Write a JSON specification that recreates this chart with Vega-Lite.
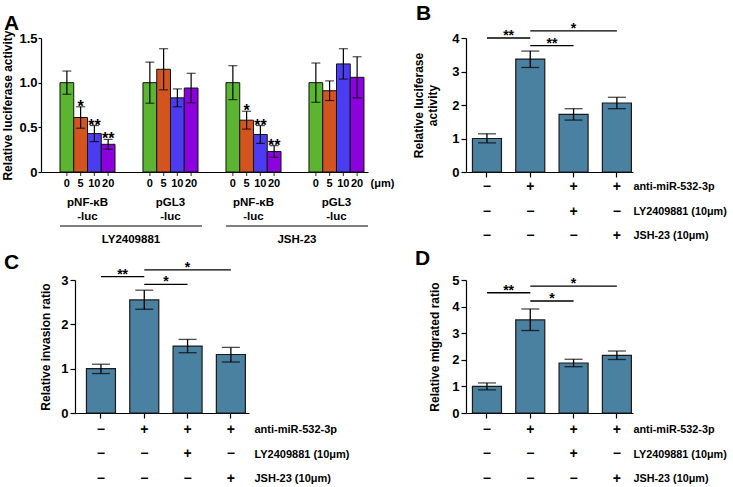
{
  "$schema": "https://vega.github.io/schema/vega-lite/v6.json",
  "background": "white",
  "padding": {"left": 1, "top": 2, "right": 0, "bottom": 0},
  "config": {
    "font": "Liberation Sans",
    "view": {"stroke": null},
    "axis": {"domainColor": "black", "tickColor": "black", "labelColor": "black", "titleColor": "black", "labelFontWeight": "bold", "titleFontWeight": "bold", "labelFontSize": 13, "titleFontSize": 12, "grid": false, "domainWidth": 1.2, "tickWidth": 1.2, "labelPadding": 2, "labelFont": "Liberation Sans", "titleFont": "Liberation Sans"},
    "text": {"fontWeight": "bold", "color": "black", "font": "Liberation Sans"},
    "title": {"fontSize": 21, "fontWeight": "bold", "anchor": "start", "frame": "group", "color": "black", "font": "Liberation Sans"},
    "tick": {"color": "black"},
    "rule": {"color": "black"}
  },
  "datasets": {
    "panelA": [
      {"treatment": "LY2409881", "group": "LY2409881 pNF-κB-luc", "dose": "0", "mean": 1.0, "lo": 0.87, "hi": 1.13, "sig": ""},
      {"treatment": "LY2409881", "group": "LY2409881 pNF-κB-luc", "dose": "5", "mean": 0.61, "lo": 0.49, "hi": 0.73, "sig": "*"},
      {"treatment": "LY2409881", "group": "LY2409881 pNF-κB-luc", "dose": "10", "mean": 0.43, "lo": 0.34, "hi": 0.52, "sig": "**"},
      {"treatment": "LY2409881", "group": "LY2409881 pNF-κB-luc", "dose": "20", "mean": 0.31, "lo": 0.255, "hi": 0.365, "sig": "**"},
      {"treatment": "LY2409881", "group": "LY2409881 pGL3-luc", "dose": "0", "mean": 1.0, "lo": 0.77, "hi": 1.23, "sig": ""},
      {"treatment": "LY2409881", "group": "LY2409881 pGL3-luc", "dose": "5", "mean": 1.15, "lo": 0.92, "hi": 1.38, "sig": ""},
      {"treatment": "LY2409881", "group": "LY2409881 pGL3-luc", "dose": "10", "mean": 0.83, "lo": 0.73, "hi": 0.93, "sig": ""},
      {"treatment": "LY2409881", "group": "LY2409881 pGL3-luc", "dose": "20", "mean": 0.94, "lo": 0.775, "hi": 1.105, "sig": ""},
      {"treatment": "JSH-23", "group": "JSH-23 pNF-κB-luc", "dose": "0", "mean": 1.0, "lo": 0.81, "hi": 1.19, "sig": ""},
      {"treatment": "JSH-23", "group": "JSH-23 pNF-κB-luc", "dose": "5", "mean": 0.58, "lo": 0.48, "hi": 0.68, "sig": "*"},
      {"treatment": "JSH-23", "group": "JSH-23 pNF-κB-luc", "dose": "10", "mean": 0.42, "lo": 0.32, "hi": 0.52, "sig": "**"},
      {"treatment": "JSH-23", "group": "JSH-23 pNF-κB-luc", "dose": "20", "mean": 0.23, "lo": 0.165, "hi": 0.295, "sig": "**"},
      {"treatment": "JSH-23", "group": "JSH-23 pGL3-luc", "dose": "0", "mean": 1.0, "lo": 0.78, "hi": 1.22, "sig": ""},
      {"treatment": "JSH-23", "group": "JSH-23 pGL3-luc", "dose": "5", "mean": 0.91, "lo": 0.8, "hi": 1.02, "sig": ""},
      {"treatment": "JSH-23", "group": "JSH-23 pGL3-luc", "dose": "10", "mean": 1.21, "lo": 1.04, "hi": 1.38, "sig": ""},
      {"treatment": "JSH-23", "group": "JSH-23 pGL3-luc", "dose": "20", "mean": 1.06, "lo": 0.83, "hi": 1.29, "sig": ""}
    ],
    "groupsA": [
      {"group": "LY2409881 pNF-κB-luc", "label": "pNF-κB\n-luc"},
      {"group": "LY2409881 pGL3-luc", "label": "pGL3\n-luc"},
      {"group": "JSH-23 pNF-κB-luc", "label": "pNF-κB\n-luc"},
      {"group": "JSH-23 pGL3-luc", "label": "pGL3\n-luc"}
    ],
    "treatA": [{"treatment": "LY2409881"}, {"treatment": "JSH-23"}],
    "panelB": [
      {"cond": "NC", "mean": 1.0, "lo": 0.87, "hi": 1.14},
      {"cond": "anti", "mean": 3.37, "lo": 3.12, "hi": 3.61},
      {"cond": "anti+LY", "mean": 1.72, "lo": 1.55, "hi": 1.89},
      {"cond": "anti+JSH", "mean": 2.06, "lo": 1.89, "hi": 2.23}
    ],
    "panelC": [
      {"cond": "NC", "mean": 1.0, "lo": 0.89, "hi": 1.1},
      {"cond": "anti", "mean": 2.55, "lo": 2.34, "hi": 2.77},
      {"cond": "anti+LY", "mean": 1.51, "lo": 1.36, "hi": 1.66},
      {"cond": "anti+JSH", "mean": 1.32, "lo": 1.15, "hi": 1.48}
    ],
    "panelD": [
      {"cond": "NC", "mean": 1.0, "lo": 0.87, "hi": 1.13},
      {"cond": "anti", "mean": 3.5, "lo": 3.1, "hi": 3.91},
      {"cond": "anti+LY", "mean": 1.88, "lo": 1.74, "hi": 2.02},
      {"cond": "anti+JSH", "mean": 2.17, "lo": 2.01, "hi": 2.33}
    ],
    "bracketsB": [
      {"from": "NC", "to": "anti", "y": 4.0, "label": "**", "span": 1},
      {"from": "anti", "to": "anti+LY", "y": 3.77, "label": "**", "span": 1},
      {"from": "anti", "to": "anti+JSH", "y": 4.21, "label": "*", "span": 2}
    ],
    "bracketsC": [
      {"from": "NC", "to": "anti", "y": 3.075, "label": "**", "span": 1},
      {"from": "anti", "to": "anti+LY", "y": 2.9, "label": "*", "span": 1},
      {"from": "anti", "to": "anti+JSH", "y": 3.23, "label": "*", "span": 2}
    ],
    "bracketsD": [
      {"from": "NC", "to": "anti", "y": 4.52, "label": "**", "span": 1},
      {"from": "anti", "to": "anti+LY", "y": 4.21, "label": "*", "span": 1},
      {"from": "anti", "to": "anti+JSH", "y": 4.77, "label": "*", "span": 2}
    ],
    "design": [
      {"cond": "NC", "factor": "anti-miR-532-3p", "sign": "−"},
      {"cond": "NC", "factor": "LY2409881 (10μm)", "sign": "−"},
      {"cond": "NC", "factor": "JSH-23 (10μm)", "sign": "−"},
      {"cond": "anti", "factor": "anti-miR-532-3p", "sign": "+"},
      {"cond": "anti", "factor": "LY2409881 (10μm)", "sign": "−"},
      {"cond": "anti", "factor": "JSH-23 (10μm)", "sign": "−"},
      {"cond": "anti+LY", "factor": "anti-miR-532-3p", "sign": "+"},
      {"cond": "anti+LY", "factor": "LY2409881 (10μm)", "sign": "+"},
      {"cond": "anti+LY", "factor": "JSH-23 (10μm)", "sign": "−"},
      {"cond": "anti+JSH", "factor": "anti-miR-532-3p", "sign": "+"},
      {"cond": "anti+JSH", "factor": "LY2409881 (10μm)", "sign": "−"},
      {"cond": "anti+JSH", "factor": "JSH-23 (10μm)", "sign": "+"}
    ]
  },
  "spacing": 18,
  "hconcat": [
    {
      "bounds": "flush",
      "spacing": 0,
      "vconcat": [
        {
          "width": 327, "height": 134,
          "title": {"text": "A", "dx": -37, "offset": -4},
          "data": {"name": "panelA"},
          "encoding": {
            "x": {"field": "group", "type": "nominal", "scale": {"type": "band", "domain": ["LY2409881 pNF-κB-luc", "LY2409881 pGL3-luc", "JSH-23 pNF-κB-luc", "JSH-23 pGL3-luc"], "paddingInner": 0.337, "paddingOuter": 0.1385, "align": 0.826}, "axis": {"labels": false, "ticks": false, "title": null}},
            "xOffset": {"field": "dose", "type": "nominal", "scale": {"domain": ["0", "5", "10", "20"], "paddingInner": 0, "paddingOuter": 0}}
          },
          "layer": [
            {"mark": {"type": "tick", "orient": "vertical", "size": 8, "thickness": 1.2}, "encoding": {"y": {"datum": 0, "type": "quantitative", "scale": {"domain": [0, 1.5], "nice": false}, "axis": {"title": "Relative luciferase activity", "values": [0, 0.5, 1, 1.5], "labelExpr": "datum.value == 0 ? '0' : format(datum.value, '.1f')", "tickSize": 3, "labelPadding": 1, "titlePadding": 4}}}},
            {"mark": {"type": "bar", "stroke": "#111111", "strokeWidth": 1}, "encoding": {
              "y": {"field": "mean", "type": "quantitative", "scale": {"domain": [0, 1.5], "nice": false}, "axis": {"title": "Relative luciferase activity", "values": [0, 0.5, 1, 1.5], "labelExpr": "datum.value == 0 ? '0' : format(datum.value, '.1f')", "tickSize": 3, "labelPadding": 1, "titlePadding": 4}},
              "color": {"field": "dose", "type": "nominal", "scale": {"domain": ["0", "5", "10", "20"], "range": ["#5CB531", "#D4541F", "#4B3CF2", "#8B02DE"]}, "legend": null}}},
            {"mark": {"type": "rule", "strokeWidth": 1.2}, "encoding": {"y": {"field": "lo", "type": "quantitative", "axis": {"title": "Relative luciferase activity", "values": [0, 0.5, 1, 1.5], "labelExpr": "datum.value == 0 ? '0' : format(datum.value, '.1f')", "tickSize": 3, "labelPadding": 1, "titlePadding": 4}}, "y2": {"field": "hi"}}},
            {"mark": {"type": "tick", "size": 9, "thickness": 1.2}, "encoding": {"y": {"field": "lo", "type": "quantitative", "axis": {"title": "Relative luciferase activity", "values": [0, 0.5, 1, 1.5], "labelExpr": "datum.value == 0 ? '0' : format(datum.value, '.1f')", "tickSize": 3, "labelPadding": 1, "titlePadding": 4}}}},
            {"mark": {"type": "tick", "size": 9, "thickness": 1.2}, "encoding": {"y": {"field": "hi", "type": "quantitative", "axis": {"title": "Relative luciferase activity", "values": [0, 0.5, 1, 1.5], "labelExpr": "datum.value == 0 ? '0' : format(datum.value, '.1f')", "tickSize": 3, "labelPadding": 1, "titlePadding": 4}}}},
            {"mark": {"type": "text", "fontSize": 16, "baseline": "alphabetic", "dy": 5}, "encoding": {"y": {"field": "hi", "type": "quantitative", "axis": {"title": "Relative luciferase activity", "values": [0, 0.5, 1, 1.5], "labelExpr": "datum.value == 0 ? '0' : format(datum.value, '.1f')", "tickSize": 3, "labelPadding": 1, "titlePadding": 4}}, "text": {"field": "sig"}}}
          ]
        },
        {
          "width": 327, "height": 108,
          "resolve": {"scale": {"x": "independent"}},
          "layer": [
            {
              "data": {"name": "panelA"},
              "mark": {"type": "text", "fontSize": 11, "dy": -2},
              "encoding": {
                "x": {"field": "group", "type": "nominal", "scale": {"type": "band", "domain": ["LY2409881 pNF-κB-luc", "LY2409881 pGL3-luc", "JSH-23 pNF-κB-luc", "JSH-23 pGL3-luc"], "paddingInner": 0.337, "paddingOuter": 0.1385, "align": 0.826}, "axis": null},
                "xOffset": {"field": "dose", "type": "nominal", "scale": {"domain": ["0", "5", "10", "20"], "paddingInner": 0, "paddingOuter": 0}},
                "y": {"datum": "(μm)", "type": "nominal", "scale": {"type": "band", "domain": ["(μm)", "vector", "treatment"], "paddingInner": 0, "paddingOuter": 0.5, "align": 0}, "axis": {"orient": "right", "values": ["(μm)"], "domain": false, "ticks": false, "labelPadding": 2, "labelFontSize": 11, "labelOffset": -2, "title": null}},
                "text": {"field": "dose"}
              }
            },
            {
              "data": {"name": "groupsA"},
              "mark": {"type": "text", "fontSize": 11.5, "lineBreak": "\n", "lineHeight": 14, "dy": -9.5},
              "encoding": {
                "x": {"field": "group", "type": "nominal", "scale": {"type": "band", "domain": ["LY2409881 pNF-κB-luc", "LY2409881 pGL3-luc", "JSH-23 pNF-κB-luc", "JSH-23 pGL3-luc"], "paddingInner": 0.337, "paddingOuter": 0.1385, "align": 0.826}, "axis": null},
                "y": {"datum": "vector", "type": "nominal"},
                "text": {"field": "label"}
              }
            },
            {
              "data": {"name": "treatA"},
              "mark": {"type": "rule", "strokeWidth": 1},
              "encoding": {
                "x": {"field": "treatment", "type": "nominal", "bandPosition": 0, "scale": {"type": "band", "domain": ["LY2409881", "JSH-23"], "paddingInner": 0.1437, "paddingOuter": 0.057, "align": 1}, "axis": null},
                "x2": {"field": "treatment", "bandPosition": 1},
                "y": {"datum": "treatment", "type": "nominal", "bandPosition": 0}
              }
            },
            {
              "data": {"name": "treatA"},
              "mark": {"type": "text", "fontSize": 11.5},
              "encoding": {
                "x": {"field": "treatment", "type": "nominal", "scale": {"type": "band", "domain": ["LY2409881", "JSH-23"], "paddingInner": 0.1437, "paddingOuter": 0.057, "align": 1}, "axis": null},
                "y": {"datum": "treatment", "type": "nominal"},
                "text": {"field": "treatment"}
              }
            }
          ]
        },
        {
          "width": 208, "height": 133,
          "title": {"text": "C", "dx": -37, "offset": -12},
          "encoding": {
            "x": {"field": "cond", "type": "nominal", "scale": {"type": "band", "domain": ["NC", "anti", "anti+LY", "anti+JSH"], "range": [34, 208], "paddingInner": 0.33, "paddingOuter": 0.174, "align": 0.76}, "axis": {"labels": false, "title": null, "tickSize": 5}}
          },
          "layer": [
            {"data": {"name": "panelC"}, "mark": {"type": "bar", "fill": "#4A80A0", "stroke": "#1a1a1a", "strokeWidth": 1.2}, "encoding": {"y": {"field": "mean", "type": "quantitative", "scale": {"domain": [0, 3], "nice": false}, "axis": {"values": [0, 1, 2, 3], "title": "Relative invasion ratio", "titlePadding": 8, "tickSize": 5, "offset": -34}}}},
            {"data": {"name": "panelC"}, "mark": {"type": "rule", "strokeWidth": 1.3}, "encoding": {"y": {"field": "lo", "type": "quantitative", "axis": {"values": [0, 1, 2, 3], "title": "Relative invasion ratio", "titlePadding": 8, "tickSize": 5, "offset": -34}}, "y2": {"field": "hi"}}},
            {"data": {"name": "panelC"}, "mark": {"type": "tick", "size": 18, "thickness": 1.3}, "encoding": {"y": {"field": "lo", "type": "quantitative", "axis": {"values": [0, 1, 2, 3], "title": "Relative invasion ratio", "titlePadding": 8, "tickSize": 5, "offset": -34}}}},
            {"data": {"name": "panelC"}, "mark": {"type": "tick", "size": 18, "thickness": 1.3}, "encoding": {"y": {"field": "hi", "type": "quantitative", "axis": {"values": [0, 1, 2, 3], "title": "Relative invasion ratio", "titlePadding": 8, "tickSize": 5, "offset": -34}}}},
            {"data": {"name": "bracketsC"}, "mark": {"type": "rule", "strokeWidth": 1.3}, "encoding": {"x": {"field": "from", "type": "nominal"}, "x2": {"field": "to"}, "y": {"field": "y", "type": "quantitative", "axis": {"values": [0, 1, 2, 3], "title": "Relative invasion ratio", "titlePadding": 8, "tickSize": 5, "offset": -34}}}},
            {"data": {"name": "bracketsC"}, "transform": [{"filter": {"field": "span", "equal": 1}}], "mark": {"type": "text", "fontSize": 14, "baseline": "alphabetic", "dy": 2}, "encoding": {"x": {"field": "from", "type": "nominal", "bandPosition": 1.246}, "y": {"field": "y", "type": "quantitative", "axis": {"values": [0, 1, 2, 3], "title": "Relative invasion ratio", "titlePadding": 8, "tickSize": 5, "offset": -34}}, "text": {"field": "label"}}},
            {"data": {"name": "bracketsC"}, "transform": [{"filter": {"field": "span", "equal": 2}}], "mark": {"type": "text", "fontSize": 14, "baseline": "alphabetic", "dy": 2}, "encoding": {"x": {"field": "from", "type": "nominal", "bandPosition": 1.993}, "y": {"field": "y", "type": "quantitative", "axis": {"values": [0, 1, 2, 3], "title": "Relative invasion ratio", "titlePadding": 8, "tickSize": 5, "offset": -34}}, "text": {"field": "label"}}}
          ]
        },
        {
          "width": 208, "height": 80,
          "data": {"name": "design"},
          "mark": {"type": "text", "fontSize": 14},
          "encoding": {
            "x": {"field": "cond", "type": "nominal", "scale": {"type": "band", "domain": ["NC", "anti", "anti+LY", "anti+JSH"], "range": [34, 208], "paddingInner": 0.33, "paddingOuter": 0.174, "align": 0.76}, "axis": null},
            "y": {"field": "factor", "type": "nominal", "scale": {"type": "point", "domain": ["anti-miR-532-3p", "LY2409881 (10μm)", "JSH-23 (10μm)"], "padding": 0.633, "align": 0.548}, "axis": {"orient": "right", "domain": false, "ticks": false, "labelPadding": 5, "labelFontSize": 11, "title": null}},
            "text": {"field": "sign"}
          }
        }
      ]
    },
    {
      "bounds": "flush",
      "spacing": 0,
      "vconcat": [
        {
          "width": 167, "height": 134,
          "title": {"text": "B", "dx": -50, "offset": -2},
          "encoding": {
            "x": {"field": "cond", "type": "nominal", "scale": {"type": "band", "domain": ["NC", "anti", "anti+LY", "anti+JSH"], "paddingInner": 0.33, "paddingOuter": 0.093, "align": 0.8}, "axis": {"labels": false, "title": null, "tickSize": 5}}
          },
          "layer": [
            {"data": {"name": "panelB"}, "mark": {"type": "bar", "fill": "#4A80A0", "stroke": "#1a1a1a", "strokeWidth": 1.2}, "encoding": {"y": {"field": "mean", "type": "quantitative", "scale": {"domain": [0, 4], "nice": false}, "axis": {"values": [0, 1, 2, 3, 4], "title": ["Relative luciferase", "activity"], "titlePadding": 12, "tickSize": 5}}}},
            {"data": {"name": "panelB"}, "mark": {"type": "rule", "strokeWidth": 1.3}, "encoding": {"y": {"field": "lo", "type": "quantitative", "axis": {"values": [0, 1, 2, 3, 4], "title": ["Relative luciferase", "activity"], "titlePadding": 12, "tickSize": 5}}, "y2": {"field": "hi"}}},
            {"data": {"name": "panelB"}, "mark": {"type": "tick", "size": 18, "thickness": 1.3}, "encoding": {"y": {"field": "lo", "type": "quantitative", "axis": {"values": [0, 1, 2, 3, 4], "title": ["Relative luciferase", "activity"], "titlePadding": 12, "tickSize": 5}}}},
            {"data": {"name": "panelB"}, "mark": {"type": "tick", "size": 18, "thickness": 1.3}, "encoding": {"y": {"field": "hi", "type": "quantitative", "axis": {"values": [0, 1, 2, 3, 4], "title": ["Relative luciferase", "activity"], "titlePadding": 12, "tickSize": 5}}}},
            {"data": {"name": "bracketsB"}, "mark": {"type": "rule", "strokeWidth": 1.3}, "encoding": {"x": {"field": "from", "type": "nominal"}, "x2": {"field": "to"}, "y": {"field": "y", "type": "quantitative", "axis": {"values": [0, 1, 2, 3, 4], "title": ["Relative luciferase", "activity"], "titlePadding": 12, "tickSize": 5}}}},
            {"data": {"name": "bracketsB"}, "transform": [{"filter": {"field": "span", "equal": 1}}], "mark": {"type": "text", "fontSize": 14, "baseline": "alphabetic", "dy": 2}, "encoding": {"x": {"field": "from", "type": "nominal", "bandPosition": 1.246}, "y": {"field": "y", "type": "quantitative", "axis": {"values": [0, 1, 2, 3, 4], "title": ["Relative luciferase", "activity"], "titlePadding": 12, "tickSize": 5}}, "text": {"field": "label"}}},
            {"data": {"name": "bracketsB"}, "transform": [{"filter": {"field": "span", "equal": 2}}], "mark": {"type": "text", "fontSize": 14, "baseline": "alphabetic", "dy": 2}, "encoding": {"x": {"field": "from", "type": "nominal", "bandPosition": 1.993}, "y": {"field": "y", "type": "quantitative", "axis": {"values": [0, 1, 2, 3, 4], "title": ["Relative luciferase", "activity"], "titlePadding": 12, "tickSize": 5}}, "text": {"field": "label"}}}
          ]
        },
        {
          "width": 167, "height": 108,
          "data": {"name": "design"},
          "mark": {"type": "text", "fontSize": 14},
          "encoding": {
            "x": {"field": "cond", "type": "nominal", "scale": {"type": "band", "domain": ["NC", "anti", "anti+LY", "anti+JSH"], "paddingInner": 0.33, "paddingOuter": 0.093, "align": 0.8}, "axis": null},
            "y": {"field": "factor", "type": "nominal", "scale": {"type": "band", "domain": ["anti-miR-532-3p", "LY2409881 (10μm)", "JSH-23 (10μm)"], "paddingInner": 0, "paddingOuter": 0.704, "align": 0.08}, "axis": {"orient": "right", "domain": false, "ticks": false, "labelPadding": 0, "labelFontSize": 10.8, "title": null}},
            "text": {"field": "sign"}
          }
        },
        {
          "width": 167, "height": 133,
          "title": {"text": "D", "dx": -51, "offset": 5},
          "encoding": {
            "x": {"field": "cond", "type": "nominal", "scale": {"type": "band", "domain": ["NC", "anti", "anti+LY", "anti+JSH"], "paddingInner": 0.33, "paddingOuter": 0.093, "align": 0.8}, "axis": {"labels": false, "title": null, "tickSize": 5}}
          },
          "layer": [
            {"data": {"name": "panelD"}, "mark": {"type": "bar", "fill": "#4A80A0", "stroke": "#1a1a1a", "strokeWidth": 1.2}, "encoding": {"y": {"field": "mean", "type": "quantitative", "scale": {"domain": [0, 5], "nice": false}, "axis": {"values": [0, 1, 2, 3, 4, 5], "title": "Relative migrated ratio", "titlePadding": 10, "tickSize": 5}}}},
            {"data": {"name": "panelD"}, "mark": {"type": "rule", "strokeWidth": 1.3}, "encoding": {"y": {"field": "lo", "type": "quantitative", "axis": {"values": [0, 1, 2, 3, 4, 5], "title": "Relative migrated ratio", "titlePadding": 10, "tickSize": 5}}, "y2": {"field": "hi"}}},
            {"data": {"name": "panelD"}, "mark": {"type": "tick", "size": 18, "thickness": 1.3}, "encoding": {"y": {"field": "lo", "type": "quantitative", "axis": {"values": [0, 1, 2, 3, 4, 5], "title": "Relative migrated ratio", "titlePadding": 10, "tickSize": 5}}}},
            {"data": {"name": "panelD"}, "mark": {"type": "tick", "size": 18, "thickness": 1.3}, "encoding": {"y": {"field": "hi", "type": "quantitative", "axis": {"values": [0, 1, 2, 3, 4, 5], "title": "Relative migrated ratio", "titlePadding": 10, "tickSize": 5}}}},
            {"data": {"name": "bracketsD"}, "mark": {"type": "rule", "strokeWidth": 1.3}, "encoding": {"x": {"field": "from", "type": "nominal"}, "x2": {"field": "to"}, "y": {"field": "y", "type": "quantitative", "axis": {"values": [0, 1, 2, 3, 4, 5], "title": "Relative migrated ratio", "titlePadding": 10, "tickSize": 5}}}},
            {"data": {"name": "bracketsD"}, "transform": [{"filter": {"field": "span", "equal": 1}}], "mark": {"type": "text", "fontSize": 14, "baseline": "alphabetic", "dy": 2}, "encoding": {"x": {"field": "from", "type": "nominal", "bandPosition": 1.246}, "y": {"field": "y", "type": "quantitative", "axis": {"values": [0, 1, 2, 3, 4, 5], "title": "Relative migrated ratio", "titlePadding": 10, "tickSize": 5}}, "text": {"field": "label"}}},
            {"data": {"name": "bracketsD"}, "transform": [{"filter": {"field": "span", "equal": 2}}], "mark": {"type": "text", "fontSize": 14, "baseline": "alphabetic", "dy": 2}, "encoding": {"x": {"field": "from", "type": "nominal", "bandPosition": 1.993}, "y": {"field": "y", "type": "quantitative", "axis": {"values": [0, 1, 2, 3, 4, 5], "title": "Relative migrated ratio", "titlePadding": 10, "tickSize": 5}}, "text": {"field": "label"}}}
          ]
        },
        {
          "width": 167, "height": 80,
          "data": {"name": "design"},
          "mark": {"type": "text", "fontSize": 14},
          "encoding": {
            "x": {"field": "cond", "type": "nominal", "scale": {"type": "band", "domain": ["NC", "anti", "anti+LY", "anti+JSH"], "paddingInner": 0.33, "paddingOuter": 0.093, "align": 0.8}, "axis": null},
            "y": {"field": "factor", "type": "nominal", "scale": {"type": "point", "domain": ["anti-miR-532-3p", "LY2409881 (10μm)", "JSH-23 (10μm)"], "padding": 0.633, "align": 0.548}, "axis": {"orient": "right", "domain": false, "ticks": false, "labelPadding": 0, "labelFontSize": 10.8, "title": null}},
            "text": {"field": "sign"}
          }
        }
      ]
    }
  ]
}
